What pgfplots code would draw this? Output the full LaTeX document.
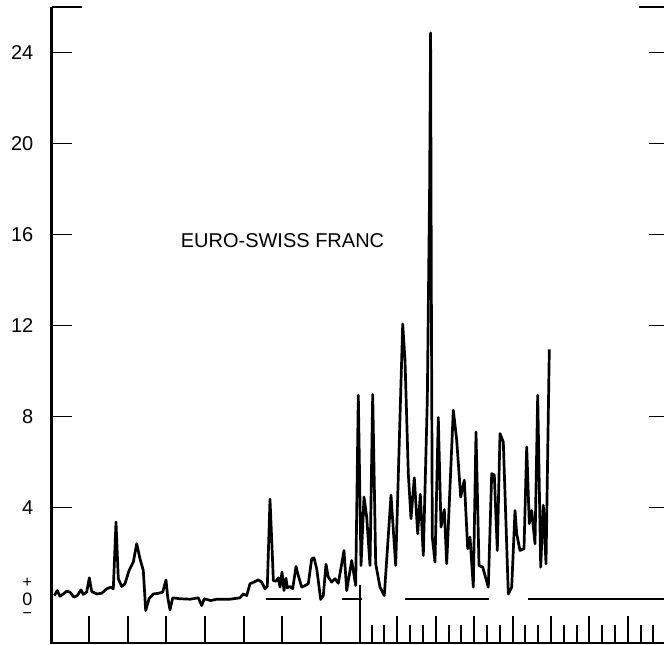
\documentclass[border=0pt]{standalone}
\usepackage{fontspec}
\setmainfont{Liberation Sans}
\usepackage{pgfplots}
\pgfplotsset{compat=1.18}

\begin{document}
\begin{tikzpicture}[x=1pt,y=1pt]
\useasboundingbox (0,0) rectangle (664,645);
\begin{axis}[
  at={(51.5pt,2pt)}, anchor=south west,
  scale only axis, width=617.5pt, height=636pt,
  xmin=51.5, xmax=669, ymin=-1.955, ymax=26,
  clip=false,
  axis line style={draw=none},
  tick align=inside,
  tick style={black, line width=1.8pt},
  major tick length=20pt,
  minor tick length=18pt,
  xtick pos=bottom,
  xtick={89,127.7,166.3,205,243.7,282.3,320.7,397.3,436,474,550.7,589.3,627.7},
  minor xtick={371.7,384.3,410,422.7,448.7,461.3,487,499.7,525.3,538,563.7,576.7,602.3,615,640.7,653.3},
  xticklabels={},
  xtick style={/pgfplots/major tick length=27pt},
  extra x ticks={512.7},
  extra x tick labels={},
  extra x tick style={/pgfplots/major tick length=35pt},
  ytick={4,8,12,16,20,24},
  ytick pos=both,
  extra y ticks={26},
  extra y tick labels={},
  extra y tick style={/pgfplots/major tick length=30pt},
  /pgf/number format/assume math mode=true,
  yticklabel style={font=\fontsize{20}{24}\selectfont, inner sep=0pt, xshift=-18pt},
]
\addplot[black, line width=2.7pt, line join=round, mark=none] coordinates {
(54.3,0.13) (57.3,0.35) (60,0.10) (63.3,0.20) (66.7,0.32) (70,0.28) (74,0.06)
(77.3,0.13) (81,0.38) (83.3,0.18) (86.7,0.28) (89.3,0.91) (91.7,0.31) (96.7,0.20)
(101.7,0.23) (106.7,0.43) (111,0.50) (113.3,0.43) (116,3.36) (118.3,0.87) (121.7,0.53)
(125,0.65) (129,1.23) (133.3,1.60) (136.7,2.41) (140,1.75) (143.3,1.23) (145.7,-0.53)
(149,-0.01) (153.3,0.20) (158.3,0.23) (162.7,0.28) (166,0.82) (167.7,0.06) (170,-0.50)
(172.7,0.03) (180,-0.01) (190,-0.03) (198.3,0.03) (201.7,-0.31) (204.3,-0.01) (208.3,-0.06)
(210.7,-0.09) (216.7,-0.03) (230,-0.03) (240,0.03) (243.3,0.20) (246.7,0.13) (250,0.65)
(254,0.72) (258.3,0.82) (261.7,0.72) (265,0.43) (267.3,0.53) (270,4.36) (272.7,1.53)
(273.3,0.79) (276,0.76) (278.3,0.91) (280,0.50) (282,1.16) (284,0.35) (286,0.89)
(287.3,0.47) (290,0.53) (292.7,0.43) (296,1.41) (298.3,1.01) (301.7,0.50) (305,0.57)
(308.3,0.65) (311.7,1.75) (314,1.79) (316.7,1.31) (320.7,-0.04) (323.3,0.13) (326,1.50)
(328.3,0.94) (331.7,0.72) (335,0.87) (338.3,0.67) (340,1.09) (344,2.11) (346.7,0.35)
(351.7,1.67) (355.7,0.57) (358.3,8.94) (361,1.45) (364,4.46) (366.7,3.58) (370,1.45)
(372.7,8.97) (375.7,1.53) (380,0.50) (384.3,0.13) (391,4.54) (395.7,1.45) (402.7,12.07)
(405,10.48) (408.3,5.5) (411,3.51) (414.3,5.31) (417.7,2.85) (420.3,4.58) (423.3,1.89)
(427.3,8.7) (429.6,18) (430.6,24.86) (431.3,14) (432.3,2.70) (435,1.60) (438.3,7.96)
(441,3.14) (444.3,3.91) (446.7,1.53) (453.3,8.28) (456.7,6.96) (460.7,4.46) (464.3,5.20)
(467.7,2.19) (470,2.70) (473.3,0.50) (476,7.32) (479,1.45) (482.7,1.38) (488.3,0.50)
(491.7,5.49) (494.3,5.42) (497.3,2.11) (500,7.25) (503.3,6.88) (508.3,0.20) (511.7,0.50)
(515,3.87) (516.7,2.85) (520,2.11) (524,2.19) (526.7,6.66) (529.3,3.29) (531.7,3.87)
(535,2.41) (537.7,8.94) (540.7,1.38) (543.3,4.10) (546,1.53) (549.3,10.95)
};
% zero-level segments
\addplot[black, line width=2pt, mark=none] coordinates {(265.7,-0.01) (301,-0.01)};
\addplot[black, line width=2pt, mark=none] coordinates {(342,-0.01) (362,-0.01)};
\addplot[black, line width=2pt, mark=none] coordinates {(405,-0.01) (489.3,-0.01)};
\addplot[black, line width=2pt, mark=none] coordinates {(528,-0.01) (680,-0.01)};
% axis lines (left and bottom only)
\draw[black, line width=2.7pt] (rel axis cs:0,1) -- (rel axis cs:0,0) -- (rel axis cs:1,0);
\draw[black, line width=1.8pt] (axis cs:360,-1.955) -- (axis cs:360,0.59);
% zero label
\node[font=\fontsize{16}{18}\selectfont, inner sep=0pt] at (axis cs:27.3,0.70) {+};
\node[font=\fontsize{18}{20}\selectfont, inner sep=0pt] at (axis cs:27.3,-0.04) {0};
\node[font=\fontsize{16}{18}\selectfont, inner sep=0pt] at (axis cs:27.3,-0.76) {−};
\node[font=\fontsize{20}{24}\selectfont] at (axis cs:282.5,15.75) {EURO-SWISS FRANC};
\end{axis}
\end{tikzpicture}
\end{document}
